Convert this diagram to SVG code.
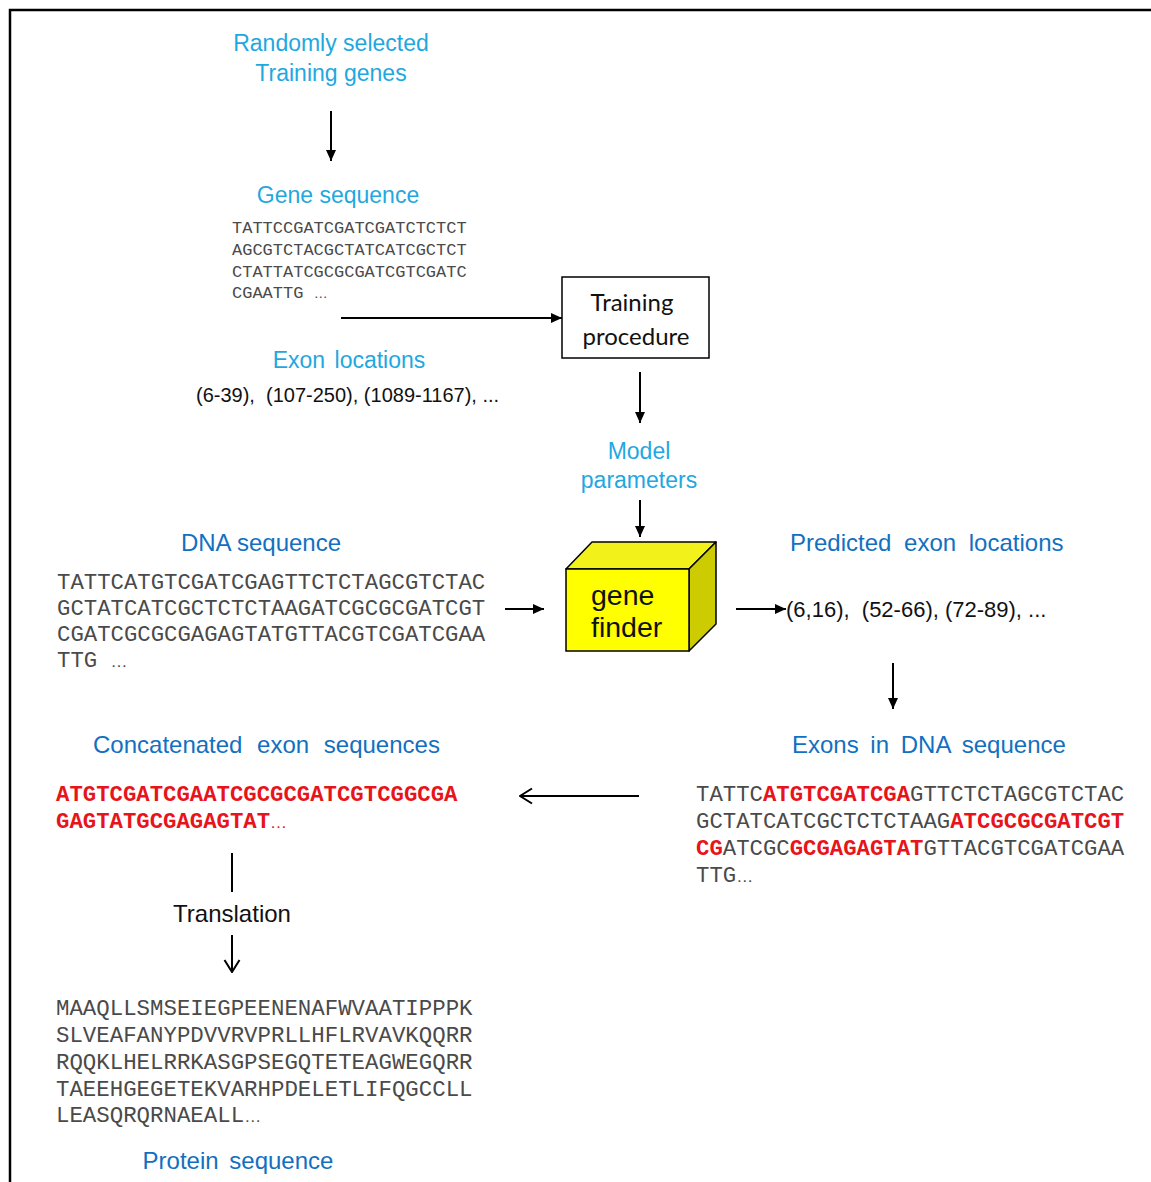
<svg xmlns="http://www.w3.org/2000/svg" width="1151" height="1182" viewBox="0 0 1151 1182">
<style>
.lc{font-family:"Liberation Sans",Arial,sans-serif;font-size:23px;fill:#1FA8E0;text-anchor:middle}
.ld{font-family:"Liberation Sans",Arial,sans-serif;font-size:24px;fill:#1270C0}
.blk{font-family:"Liberation Sans",Arial,sans-serif;fill:#111}
.mono{font-family:"Liberation Mono","Courier New",monospace;fill:#4a4a4a}
.red{fill:#E8141B;font-weight:bold}
.ell{font-family:"Liberation Sans",Arial,sans-serif;font-weight:normal}
.con{stroke:#000;stroke-width:2;fill:none}
</style>
<defs>
<marker id="fa" markerUnits="userSpaceOnUse" markerWidth="11" markerHeight="10" refX="11" refY="5" orient="auto">
<path d="M0,0 L11,5 L0,10 z" fill="#000"/>
</marker>
<marker id="oa" markerUnits="userSpaceOnUse" markerWidth="14" markerHeight="18" refX="13" refY="9" orient="auto">
<path d="M1,1.5 L13,9 L1,16.5" fill="none" stroke="#000" stroke-width="2"/>
</marker>
</defs>
<rect width="1151" height="1182" fill="#fff"/>
<path d="M10,1182 V10 H1151" fill="none" stroke="#000" stroke-width="2.5"/>

<g id="training-genes">
<text class="lc" x="331" y="51">Randomly selected</text>
<text class="lc" x="331" y="81">Training genes</text>
</g>

<g id="gene-sequence">
<text class="lc" x="338" y="203">Gene sequence</text>
<g class="mono" font-size="17">
<text x="232" y="233">TATTCCGATCGATCGATCTCTCT</text>
<text x="232" y="255">AGCGTCTACGCTATCATCGCTCT</text>
<text x="232" y="277">CTATTATCGCGCGATCGTCGATC</text>
<text x="232" y="298" xml:space="preserve">CGAATTG <tspan class="ell" font-size="14">…</tspan></text>
</g>
</g>

<g id="exon-locations">
<text class="lc" x="349" y="368" word-spacing="3">Exon locations</text>
<text class="blk" x="196" y="402" font-size="20" xml:space="preserve">(6-39),  (107-250), (1089-1167), ...</text>
</g>

<g id="training-procedure">
<rect x="562" y="277" width="147" height="81" fill="#fff" stroke="#000" stroke-width="1.5"/>
<text x="632" y="311" font-family="Lato,'Open Sans',sans-serif" font-size="24" fill="#111" text-anchor="middle">Training</text>
<text x="636" y="345" font-family="Lato,'Open Sans',sans-serif" font-size="24" fill="#111" text-anchor="middle">procedure</text>
</g>

<g id="model-parameters">
<text class="lc" x="639" y="459">Model</text>
<text class="lc" x="639" y="488">parameters</text>
</g>

<g id="gene-finder">
<polygon points="566,569 592,542 716,542 689,569" fill="#F2F21A" stroke="#000" stroke-width="1.5" stroke-linejoin="round"/>
<polygon points="689,569 716,542 716,624 689,651" fill="#CCCC00" stroke="#000" stroke-width="1.5" stroke-linejoin="round"/>
<rect x="566" y="569" width="123" height="82" fill="#FFFF00" stroke="#000" stroke-width="1.5"/>
<text class="blk" x="591" y="605" font-size="28.5">gene</text>
<text class="blk" x="591" y="637" font-size="28.5">finder</text>
</g>

<g id="dna-sequence">
<text class="ld" x="261" y="551" text-anchor="middle">DNA sequence</text>
<g class="mono" font-size="22.3">
<text x="57" y="589">TATTCATGTCGATCGAGTTCTCTAGCGTCTAC</text>
<text x="57" y="615">GCTATCATCGCTCTCTAAGATCGCGCGATCGT</text>
<text x="57" y="641">CGATCGCGCGAGAGTATGTTACGTCGATCGAA</text>
<text x="57" y="667" xml:space="preserve">TTG <tspan class="ell" font-size="17">…</tspan></text>
</g>
</g>

<g id="predicted-exon-locations">
<text class="ld" x="790" y="551" word-spacing="6">Predicted exon locations</text>
<text class="blk" x="786" y="617" font-size="22" xml:space="preserve">(6,16),  (52-66), (72-89), ...</text>
</g>

<g id="exons-in-dna">
<text class="ld" x="792" y="753" word-spacing="5">Exons in DNA sequence</text>
<g class="mono" font-size="22.3">
<text x="696" y="801">TATTC<tspan class="red">ATGTCGATCGA</tspan>GTTCTCTAGCGTCTAC</text>
<text x="696" y="828">GCTATCATCGCTCTCTAAG<tspan class="red">ATCGCGCGATCGT</tspan></text>
<text x="696" y="855"><tspan class="red">CG</tspan>ATCGC<tspan class="red">GCGAGAGTAT</tspan>GTTACGTCGATCGAA</text>
<text x="696" y="882">TTG<tspan class="ell" font-size="17">…</tspan></text>
</g>
</g>

<g id="concatenated-exons">
<text class="ld" x="93" y="753" word-spacing="8">Concatenated exon sequences</text>
<g class="mono" font-size="22.3">
<text class="red" x="56" y="801">ATGTCGATCGAATCGCGCGATCGTCGGCGA</text>
<text class="red" x="56" y="828">GAGTATGCGAGAGTAT<tspan class="ell" font-size="17">…</tspan></text>
</g>
</g>

<g id="translation">
<text class="blk" x="232" y="922" font-size="24" text-anchor="middle">Translation</text>
</g>

<g id="protein-sequence">
<g class="mono" font-size="22.4">
<text x="56" y="1015">MAAQLLSMSEIEGPEENENAFWVAATIPPPK</text>
<text x="56" y="1042">SLVEAFANYPDVVRVPRLLHFLRVAVKQQRR</text>
<text x="56" y="1069">RQQKLHELRRKASGPSEGQTETEAGWEGQRR</text>
<text x="56" y="1096">TAEEHGEGETEKVARHPDELETLIFQGCCLL</text>
<text x="56" y="1122">LEASQRQRNAEALL<tspan class="ell" font-size="17">…</tspan></text>
</g>
<text class="ld" x="238" y="1169" text-anchor="middle" word-spacing="4">Protein sequence</text>
</g>

<g id="connectors">
<line class="con" x1="331" y1="111" x2="331" y2="161" marker-end="url(#fa)"/>
<line class="con" x1="341" y1="318" x2="562" y2="318" marker-end="url(#fa)"/>
<line class="con" x1="640" y1="372" x2="640" y2="423" marker-end="url(#fa)"/>
<line class="con" x1="640" y1="500" x2="640" y2="537" marker-end="url(#fa)"/>
<line class="con" x1="505" y1="609" x2="544" y2="609" marker-end="url(#fa)"/>
<line class="con" x1="736" y1="609" x2="786" y2="609" marker-end="url(#fa)"/>
<line class="con" x1="893" y1="663" x2="893" y2="709" marker-end="url(#fa)"/>
<line class="con" x1="639" y1="796" x2="520" y2="796" marker-end="url(#oa)"/>
<line class="con" x1="232" y1="853" x2="232" y2="892"/>
<line class="con" x1="232" y1="935" x2="232" y2="972" marker-end="url(#oa)"/>
</g>
</svg>
